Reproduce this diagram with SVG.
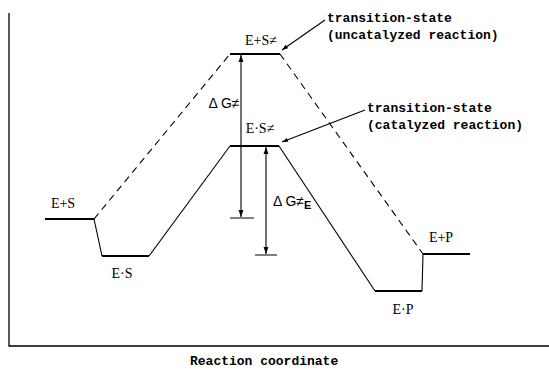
<svg xmlns="http://www.w3.org/2000/svg" width="549" height="370" viewBox="0 0 549 370">
<defs>
<marker id="ah" viewBox="0 0 10 10" refX="10" refY="5" markerWidth="7" markerHeight="7" orient="auto-start-reverse" markerUnits="userSpaceOnUse">
<path d="M0,1.5 L10,5 L0,8.5 Z" fill="#000"/>
</marker>
<marker id="ahs" viewBox="0 0 10 10" refX="10" refY="5" markerWidth="9" markerHeight="6" orient="auto-start-reverse" markerUnits="userSpaceOnUse">
<path d="M0,1.5 L10,5 L0,8.5 Z" fill="#000"/>
</marker>
</defs>
<style>
.lvl{stroke:#000;stroke-width:2;fill:none}
.sl{stroke:#000;stroke-width:1.1;fill:none}
.dash{stroke:#000;stroke-width:1.1;fill:none;stroke-dasharray:7 5}
.ax{stroke:#000;stroke-width:1.3;fill:none}
.tick{stroke:#000;stroke-width:1;fill:none}
.ser{font-family:"Liberation Serif","DejaVu Serif",serif;font-size:14px;fill:#000}
.mono{font-family:"Liberation Mono","DejaVu Sans Mono",monospace;font-size:13px;font-weight:bold;fill:#000}
.dg{font-family:"Liberation Sans","DejaVu Sans",sans-serif;font-size:14px;fill:#000}
</style>
<rect width="549" height="370" fill="#fff"/>
<g id="axes">
<path class="ax" d="M9,13 L9,346 L549,346"/>
</g>
<g id="connectors">
<path class="sl" d="M94,219 L102,256"/>
<path class="sl" d="M149,256 L230,146"/>
<path class="sl" d="M279,146 L375,291"/>
<path class="sl" d="M422,291 L423,254"/>
<path class="dash" d="M94,219 L230,54"/>
<path class="dash" d="M280,54 L423,254"/>
<path class="sl" d="M241,55 L241,217" marker-start="url(#ah)" marker-end="url(#ah)"/>
<path class="tick" d="M230,218 L254,218"/>
<path class="sl" d="M266,147 L266,254" marker-start="url(#ah)" marker-end="url(#ah)"/>
<path class="tick" d="M255,255 L277,255"/>
<path class="sl" d="M325,20 L282,50" marker-end="url(#ahs)"/>
<path class="sl" d="M365,110 L282,142" marker-end="url(#ahs)"/>
</g>
<g id="ES_start">
<path class="lvl" d="M45,219 L94,219"/>
<text class="ser" x="63" y="208" text-anchor="middle">E+S</text>
</g>
<g id="ES_complex">
<path class="lvl" d="M102,256 L149,256"/>
<text class="ser" x="122" y="278" text-anchor="middle">E·S</text>
</g>
<g id="TS_uncat">
<path class="lvl" d="M230,54 L280,54"/>
<text class="ser" x="261" y="45" text-anchor="middle">E+S≠</text>
</g>
<g id="TS_cat">
<path class="lvl" d="M230,146 L279,146"/>
<text class="ser" x="260" y="133" text-anchor="middle">E·S≠</text>
</g>
<g id="EP_complex">
<path class="lvl" d="M375,291 L422,291"/>
<text class="ser" x="403" y="314" text-anchor="middle">E·P</text>
</g>
<g id="EP_end">
<path class="lvl" d="M423,254 L470,254"/>
<text class="ser" x="441" y="242" text-anchor="middle">E+P</text>
</g>
<g id="dG_uncat">
<text class="dg" x="224" y="108" text-anchor="middle">Δ G≠</text>
</g>
<g id="dG_cat">
<text class="dg" x="273" y="206">Δ G≠<tspan font-size="11" font-weight="bold" dy="3">E</tspan></text>
</g>
<g id="label_uncat">
<text class="mono" x="327" y="22">transition-state</text>
<text class="mono" x="327" y="39">(uncatalyzed reaction)</text>
</g>
<g id="label_cat">
<text class="mono" x="367" y="112">transition-state</text>
<text class="mono" x="367" y="129">(catalyzed reaction)</text>
</g>
<g id="xlabel">
<text class="mono" x="190" y="365" font-size="12.7">Reaction coordinate</text>
</g>
</svg>
